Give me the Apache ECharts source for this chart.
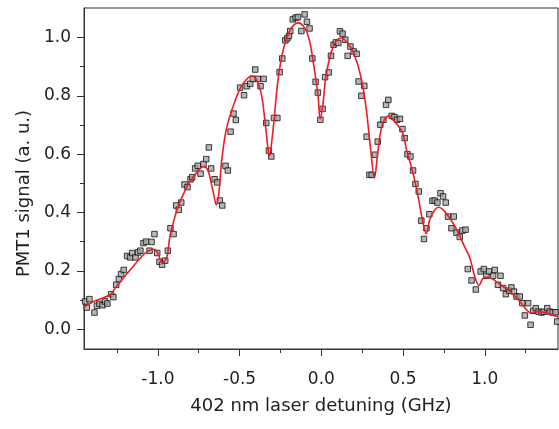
<!DOCTYPE html>
<html>
<head>
<meta charset="utf-8">
<script src="https://cdn.jsdelivr.net/npm/echarts@6/dist/echarts.min.js"></script>
<style>
html,body{margin:0;padding:0;background:#fff;}
#chart{width:559px;height:429px;}
</style>
</head>
<body>
<div id="chart"></div>
<script>
// Measured data points (detuning GHz, PMT1 signal a.u.)
const dataX = [-1.445,-1.435,-1.419,-1.388,-1.373,-1.358,-1.339,-1.322,-1.309,-1.286,-1.272,-1.255,-1.239,-1.225,-1.209,-1.188,-1.170,-1.157,-1.137,-1.121,-1.107,-1.088,-1.072,-1.051,-1.039,-1.021,-1.004,-0.990,-0.974,-0.955,-0.939,-0.923,-0.904,-0.888,-0.872,-0.857,-0.837,-0.819,-0.800,-0.790,-0.772,-0.756,-0.739,-0.721,-0.704,-0.688,-0.674,-0.653,-0.637,-0.621,-0.606,-0.586,-0.572,-0.555,-0.537,-0.523,-0.497,-0.473,-0.456,-0.435,-0.419,-0.404,-0.388,-0.372,-0.353,-0.337,-0.321,-0.306,-0.290,-0.269,-0.255,-0.239,-0.220,-0.208,-0.198,-0.190,-0.174,-0.157,-0.143,-0.122,-0.102,-0.088,-0.072,-0.055,-0.035,-0.021,-0.006,0.008,0.023,0.045,0.059,0.075,0.089,0.104,0.114,0.130,0.147,0.161,0.178,0.198,0.216,0.228,0.245,0.263,0.277,0.294,0.308,0.328,0.345,0.361,0.380,0.396,0.410,0.430,0.447,0.463,0.481,0.496,0.510,0.527,0.545,0.561,0.576,0.596,0.612,0.628,0.643,0.661,0.680,0.694,0.710,0.729,0.745,0.761,0.775,0.796,0.810,0.827,0.847,0.863,0.882,0.896,0.919,0.945,0.975,0.994,1.010,1.026,1.051,1.061,1.081,1.096,1.112,1.129,1.149,1.163,1.178,1.194,1.214,1.230,1.245,1.265,1.280,1.296,1.312,1.329,1.347,1.361,1.382,1.398,1.415,1.433,1.443];
const dataY = [0.095,0.074,0.103,0.057,0.080,0.087,0.082,0.095,0.088,0.120,0.110,0.152,0.172,0.189,0.203,0.251,0.246,0.261,0.246,0.263,0.269,0.295,0.300,0.269,0.299,0.326,0.261,0.231,0.221,0.235,0.269,0.346,0.326,0.424,0.409,0.434,0.496,0.487,0.514,0.521,0.551,0.560,0.533,0.566,0.583,0.623,0.551,0.514,0.503,0.441,0.424,0.560,0.544,0.677,0.739,0.717,0.828,0.802,0.833,0.841,0.858,0.890,0.858,0.833,0.858,0.707,0.612,0.592,0.724,0.724,0.881,0.928,0.990,0.997,1.005,1.022,1.062,1.068,1.070,1.022,1.079,1.054,1.031,0.928,0.848,0.811,0.718,0.755,0.864,0.880,0.937,0.975,0.983,0.981,1.021,1.013,0.992,0.937,0.969,0.952,0.944,0.849,0.800,0.834,0.660,0.529,0.529,0.598,0.643,0.701,0.718,0.769,0.786,0.731,0.727,0.718,0.721,0.686,0.655,0.600,0.592,0.544,0.498,0.472,0.372,0.309,0.346,0.394,0.440,0.441,0.434,0.466,0.455,0.434,0.386,0.346,0.386,0.331,0.316,0.338,0.341,0.206,0.167,0.136,0.198,0.206,0.183,0.198,0.183,0.203,0.152,0.183,0.141,0.120,0.132,0.143,0.129,0.112,0.112,0.089,0.047,0.089,0.015,0.063,0.072,0.060,0.057,0.060,0.072,0.060,0.057,0.058,0.026];

// Fit curve
const fitX = [-1.456,-1.376,-1.292,-1.260,-1.170,-1.076,-1.039,-1.021,-1.001,-0.972,-0.945,-0.926,-0.904,-0.878,-0.849,-0.817,-0.788,-0.756,-0.725,-0.704,-0.690,-0.678,-0.658,-0.643,-0.627,-0.609,-0.582,-0.541,-0.500,-0.470,-0.429,-0.398,-0.367,-0.347,-0.327,-0.317,-0.303,-0.286,-0.266,-0.235,-0.194,-0.143,-0.102,-0.072,-0.047,-0.021,-0.007,0.008,0.028,0.059,0.089,0.120,0.161,0.202,0.242,0.273,0.300,0.325,0.345,0.365,0.386,0.412,0.457,0.498,0.521,0.561,0.592,0.622,0.642,0.663,0.694,0.718,0.755,0.816,0.878,0.908,0.939,0.965,0.990,1.021,1.072,1.112,1.153,1.214,1.286,1.317,1.378,1.447];
const fitY = [0.075,0.099,0.118,0.142,0.203,0.262,0.272,0.274,0.261,0.227,0.248,0.320,0.368,0.418,0.457,0.493,0.519,0.541,0.557,0.553,0.539,0.512,0.461,0.426,0.466,0.581,0.683,0.762,0.821,0.848,0.868,0.856,0.805,0.725,0.622,0.593,0.645,0.736,0.850,0.953,1.022,1.050,1.033,0.988,0.907,0.805,0.721,0.763,0.866,0.947,0.986,0.998,0.981,0.941,0.866,0.763,0.626,0.518,0.604,0.683,0.718,0.731,0.706,0.672,0.615,0.535,0.455,0.364,0.327,0.375,0.409,0.418,0.403,0.354,0.281,0.245,0.180,0.150,0.175,0.178,0.163,0.146,0.130,0.095,0.055,0.060,0.055,0.042];

const xMajor = [-1.0,-0.5,0.0,0.5,1.0];
const xMinor = [-1.25,-0.75,-0.25,0.25,0.75,1.25];
const yMajor = [0.0,0.2,0.4,0.6,0.8,1.0];
const yMinor = [0.1,0.3,0.5,0.7,0.9];

const xTitle = '402 nm laser detuning (GHz)';
const yTitle = 'PMT1 signal (a. u.)';

const FONT = 'DejaVu Sans';
const AX = '#333';
const TX = '#222';

const scatterData = dataX.map((x, i) => [x, dataY[i]]);
const fitData = fitX.map((x, i) => [x, fitY[i]]);

const chart = echarts.init(document.getElementById('chart'), null, {renderer: 'canvas'});
const xRange = {min: -1.452, max: 1.448};
const yRange = {min: -0.068, max: 1.101};

chart.setOption({
  animation: false,
  backgroundColor: '#fff',
  grid: {left: 84, right: 1, top: 8, bottom: 80, show: true, borderColor: AX, borderWidth: 1, backgroundColor: 'transparent'},
  xAxis: [
    {type: 'value', position: 'bottom', ...xRange,
     axisLine: {show: true, onZero: false, lineStyle: {color: AX, width: 1}},
     axisTick: {show: true, inside: false, length: 7, customValues: xMajor, lineStyle: {color: AX}},
     axisLabel: {show: true, customValues: xMajor, margin: 22, color: TX, fontFamily: FONT, fontSize: 17,
                 formatter: v => v.toFixed(1)},
     splitLine: {show: false},
     name: xTitle, nameLocation: 'middle', nameGap: 48,
     nameTextStyle: {color: TX, fontFamily: FONT, fontSize: 18}},
    {type: 'value', position: 'bottom', ...xRange,
     axisLine: {show: false, onZero: false},
     axisTick: {show: true, inside: false, length: 4, customValues: xMinor, lineStyle: {color: AX}},
     axisLabel: {show: false}, splitLine: {show: false}}
  ],
  yAxis: [
    {type: 'value', position: 'left', ...yRange,
     axisLine: {show: true, onZero: false, lineStyle: {color: AX, width: 1}},
     axisTick: {show: true, inside: false, length: 7, customValues: yMajor, lineStyle: {color: AX}},
     axisLabel: {show: true, customValues: yMajor, margin: 13, color: TX, fontFamily: FONT, fontSize: 17,
                 formatter: v => v.toFixed(1)},
     splitLine: {show: false},
     name: yTitle, nameLocation: 'middle', nameGap: 50, nameRotate: 90,
     nameTextStyle: {color: TX, fontFamily: FONT, fontSize: 18, padding: [0, 30, 0, 0]}},
    {type: 'value', position: 'left', ...yRange,
     axisLine: {show: false, onZero: false},
     axisTick: {show: true, inside: false, length: 4, customValues: yMinor, lineStyle: {color: AX}},
     axisLabel: {show: false}, splitLine: {show: false}}
  ],
  series: [
    {type: 'scatter', xAxisIndex: 0, yAxisIndex: 0, data: scatterData,
     symbol: 'rect', symbolSize: 5.5,
     itemStyle: {color: '#a6a6a6', borderColor: '#111', borderWidth: 1}, z: 2},
    {type: 'line', xAxisIndex: 0, yAxisIndex: 0, data: fitData, smooth: 0.35,
     showSymbol: false, symbol: 'none',
     lineStyle: {color: '#ee1c25', width: 1.6}, z: 3}
  ]
});
</script>
</body>
</html>
